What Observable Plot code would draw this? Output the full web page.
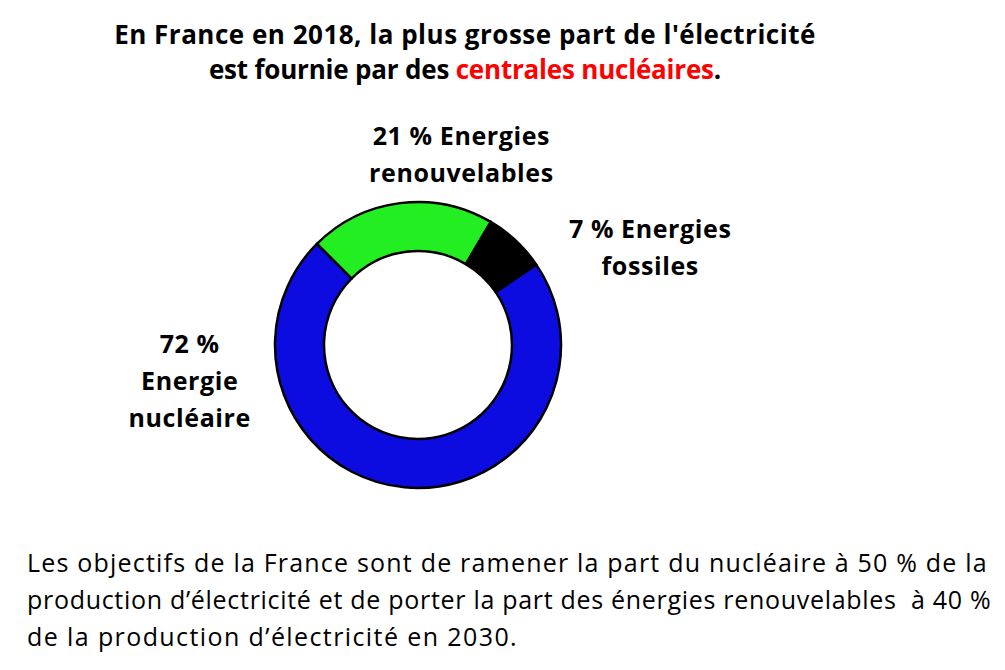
<!DOCTYPE html>
<html>
<head>
<meta charset="utf-8">
<script src="https://cdn.jsdelivr.net/npm/d3@7"></script>
<script src="https://cdn.jsdelivr.net/npm/@observablehq/plot@0.6"></script>
<style>
  body { margin: 0; background: #fff; font-family: "Open Sans", "DejaVu Sans", sans-serif; }
  #title { box-sizing: border-box; height: 100px; padding-top: 17px; width: 930px; text-align: center;
           font-weight: bold; font-size: 26px; line-height: 35px; color: #000; }
  #title .l1 { letter-spacing: 0.5px; }
  #title .l2 { letter-spacing: -0.2px; }
  #title .red { color: #ff0000; }
  #note { margin: 24px 0 0 27px; font-size: 25px; line-height: 37px; color: #000; width: 978px; white-space: nowrap; }
  #note .l1 { letter-spacing: 1.2px; }
  #note .l2 { letter-spacing: 0.7px; }
  #note .l3 { letter-spacing: 1.4px; }
</style>
</head>
<body>
<div id="title"><div class="l1">En France en 2018, la plus grosse part de l'électricité</div><div class="l2">est fournie par des <span class="red">centrales nucléaires</span>.</div></div>
<div id="chart"></div>
<div id="note"><div class="l1">Les objectifs de la France sont de ramener la part du nucléaire à 50 % de la</div><div class="l2">production d’électricité et de porter la part des énergies renouvelables&nbsp; à 40 %</div><div class="l3">de la production d’électricité en 2030.</div></div>
<script>
// Data
const sources = ["Energies renouvelables", "Energies fossiles", "Energie nucléaire"];
const shares = [21, 7, 72];
const colors = ["#22ee22", "#000000", "#0c0ce0"];
const labels = ["21 % Energies\nrenouvelables", "7 % Energies\nfossiles", "72 %\nEnergie\nnucléaire"];
const labelX = [0.30, 1.62, -1.60];
const labelY = [1.353, 0.703, -0.231];

const startAngle = -45 * Math.PI / 180;
const innerRatio = 94 / 143;

const total = d3.sum(shares);
let acc = 0;
const slices = sources.map((s, i) => {
  const a0 = startAngle + acc / total * 2 * Math.PI;
  acc += shares[i];
  const a1 = startAngle + acc / total * 2 * Math.PI;
  return {source: s, value: shares[i], color: colors[i], a0, a1};
});
const labelData = labels.map((t, i) => ({text: t, x: labelX[i], y: labelY[i]}));

function donut(index, scales, values, dimensions, context) {
  const cx = scales.x(0), cy = scales.y(0);
  const R = Math.abs(scales.x(1) - scales.x(0));
  const arc = d3.arc().innerRadius(R * innerRatio).outerRadius(R);
  const g = d3.create("svg:g").attr("transform", `translate(${cx},${cy})`);
  g.selectAll("path").data(slices).join("path")
    .attr("d", d => arc({startAngle: d.a0, endAngle: d.a1}))
    .attr("fill", d => d.color)
    .attr("stroke", "#000")
    .attr("stroke-width", 2.5)
    .attr("stroke-linejoin", "round");
  return g.node();
}

const plot = Plot.plot({
  width: 1005,
  height: 420,
  margin: 0,
  x: {domain: [-1, 1], range: [275, 561], axis: null},
  y: {domain: [-1, 1], range: [388, 102], axis: null},
  style: {background: "transparent", overflow: "visible", letterSpacing: "0.6px"},
  marks: [
    donut,
    Plot.text(labelData, {x: "x", y: "y", text: "text", fontSize: 25, fontWeight: "bold",
      lineHeight: 1.48, fill: "#000", fontFamily: "'Open Sans', 'DejaVu Sans', sans-serif"})
  ]
});
document.getElementById("chart").appendChild(plot);
</script>
</body>
</html>
